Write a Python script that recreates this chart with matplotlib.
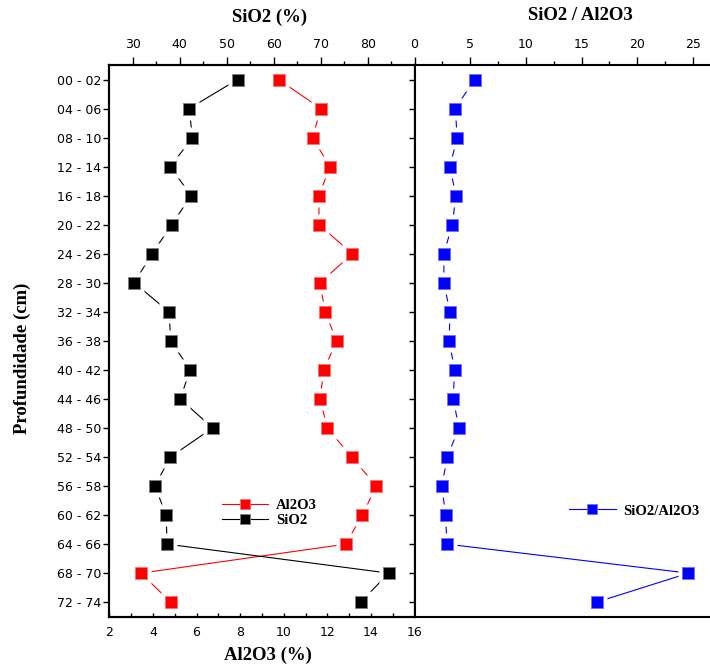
import matplotlib
matplotlib.use("Agg")
import matplotlib.pyplot as plt
import numpy as np
from matplotlib.lines import Line2D
from matplotlib.ticker import FixedLocator

# depth intervals (cm), top to bottom
depth_labels = [
    "00 - 02", "04 - 06", "08 - 10", "12 - 14", "16 - 18", "20 - 22",
    "24 - 26", "28 - 30", "32 - 34", "36 - 38", "40 - 42", "44 - 46",
    "48 - 50", "52 - 54", "56 - 58", "60 - 62", "64 - 66", "68 - 70",
    "72 - 74",
]
sio2 = [52.3, 42.0, 42.7, 38.0, 42.4, 38.3, 34.1, 30.3, 37.7, 38.1,
        42.2, 40.1, 47.0, 38.0, 34.7, 37.1, 37.3, 84.5, 78.5]
al2o3 = [9.76, 11.70, 11.32, 12.11, 11.62, 11.61, 13.15, 11.66, 11.90, 12.42,
         11.84, 11.66, 12.00, 13.11, 14.25, 13.60, 12.85, 3.45, 4.82]
ratio = [5.39, 3.65, 3.83, 3.17, 3.71, 3.38, 2.63, 2.63, 3.17, 3.11,
         3.59, 3.47, 3.98, 2.93, 2.45, 2.78, 2.90, 24.6, 16.35]

al_ticks = [2, 4, 6, 8, 10, 12, 14, 16]
si_ticks = [30, 40, 50, 60, 70, 80]
ratio_ticks = [0, 5, 10, 15, 20, 25]

W, H = 710, 666
SERIF = "Liberation Serif"
# slightly tall rectangle, like the Origin squares
RECT = [(-0.87, -1), (0.87, -1), (0.87, 1), (-0.87, 1), (-0.87, -1)]


def px_box(x0, y0, x1, y1):
    return [x0 / W, 1 - y1 / H, (x1 - x0) / W, (y1 - y0) / H]


def draw_series(ax, x, y, color, edge):
    ax.plot(x, y, color=color, lw=0.8, zorder=2)
    # white pad behind markers so lines stop short of them
    ax.plot(x, y, ls="none", marker=RECT, ms=16, mfc="white", mec="none", zorder=3)
    ax.plot(x, y, ls="none", marker=RECT, ms=9.2, mfc=color, mec=edge, mew=0.6, zorder=4)
    return Line2D([], [], color=color, lw=0.8, marker="s", ms=7, mfc=color, mec=edge, mew=0.6)


fig = plt.figure(figsize=(W / 100, H / 100), dpi=100)
ax_al = fig.add_axes(px_box(109.3, 65, 414.6, 616.7))
ax_si = ax_al.twiny()
ax_r = fig.add_axes(px_box(414.6, 65, 709.6, 616.7))

pos = np.arange(len(depth_labels))

h_al = draw_series(ax_al, al2o3, pos, "#ff0000", "#ff7070")
h_si = draw_series(ax_si, sio2, pos, "#000000", "#808080")
h_r = draw_series(ax_r, ratio, pos, "#0000ff", "#7070ff")

for ax in (ax_al, ax_r):
    ax.set_ylim(len(depth_labels) - 0.5, -0.5)
    ax.set_yticks(pos)
    ax.tick_params(axis="y", direction="out", length=4.5, width=1, pad=1.5, right=False)

ax_al.set_yticklabels(depth_labels, fontsize=9)
ax_r.tick_params(axis="y", labelleft=False)

ax_al.set_xlim(2, 16)
ax_al.xaxis.set_major_locator(FixedLocator(al_ticks))
ax_al.xaxis.set_minor_locator(FixedLocator(range(3, 16, 2)))
ax_al.tick_params(axis="x", which="both", direction="in", length=3, width=1,
                  pad=7, labelsize=9, top=False)

ax_si.set_xlim(25, 90)
ax_si.xaxis.set_major_locator(FixedLocator(si_ticks))
ax_si.xaxis.set_minor_locator(FixedLocator(range(35, 90, 10)))
ax_si.tick_params(axis="x", which="major", direction="out", length=5.8, width=1,
                  pad=4.5, labelsize=9)
ax_si.tick_params(axis="x", which="minor", direction="out", length=2.6, width=1)

ax_r.set_xlim(0, 26.5)
ax_r.xaxis.tick_top()
ax_r.xaxis.set_major_locator(FixedLocator(ratio_ticks))
ax_r.xaxis.set_minor_locator(FixedLocator(np.arange(2.5, 26, 5)))
ax_r.tick_params(axis="x", which="major", direction="out", length=5.8, width=1,
                 pad=4.5, labelsize=9, bottom=False)
ax_r.tick_params(axis="x", which="minor", direction="out", length=2.6, width=1, bottom=False)
ax_r.spines["right"].set_visible(False)

for ax in (ax_al, ax_si, ax_r):
    for sp in ax.spines.values():
        sp.set_linewidth(1.5)

title_font = dict(family=SERIF, weight="bold", size=13.5, ha="center", va="center")
fig.text(270 / W, 1 - 17 / H, "SiO2 (%)", **title_font)
fig.text(580 / W, 1 - 16 / H, "SiO2 / Al2O3", **title_font)
fig.text(268 / W, 1 - 655 / H, "Al2O3 (%)", **title_font)
fig.text(22.7 / W, 1 - 358 / H, "Profundidade (cm)", rotation=90, **title_font)

leg_font = dict(family=SERIF, weight="bold", size=10.5)
leg_opts = dict(loc="center left", bbox_transform=fig.transFigure, frameon=False,
                borderpad=0, borderaxespad=0, handlelength=3.2, handletextpad=0.53,
                labelspacing=0.15, prop=leg_font)
ax_si.legend([h_al, h_si], ["Al2O3", "SiO2"],
             bbox_to_anchor=(221.7 / W, 1 - 513 / H), **leg_opts)
ax_r.legend([h_r], ["SiO2/Al2O3"],
            bbox_to_anchor=(569 / W, 1 - 511 / H), **leg_opts)

fig.savefig("out.png", dpi=100)
